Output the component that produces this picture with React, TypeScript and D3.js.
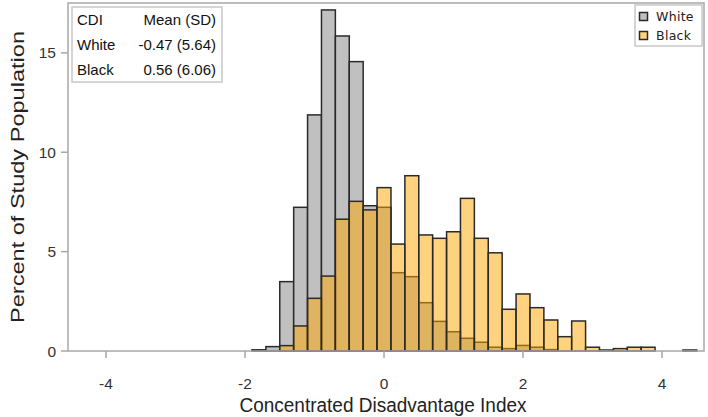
import React from "react";
import * as d3 from "d3";

const binCenters = [-1.8, -1.6, -1.4, -1.2, -1.0, -0.8, -0.6, -0.4, -0.2, 0.0, 0.2, 0.4, 0.6, 0.8, 1.0, 1.2, 1.4, 1.6, 1.8, 2.0, 2.2, 2.4, 2.6, 2.8, 3.0, 3.2, 3.4, 3.6, 3.8, 4.0, 4.2, 4.4];
const whitePct = [0.06, 0.22, 3.49, 7.23, 11.88, 17.16, 15.85, 14.56, 7.31, 7.23, 3.94, 3.74, 2.43, 1.49, 0.97, 0.64, 0.44, 0.19, 0.12, 0.28, 0.19, 0.07, 0, 0, 0, 0, 0, 0, 0, 0, 0, 0.05];
const blackPct = [0, 0, 0.27, 1.26, 2.65, 3.77, 6.63, 7.53, 7.10, 8.22, 5.38, 8.82, 5.84, 5.67, 6.00, 7.68, 5.67, 4.94, 2.10, 2.87, 2.18, 1.56, 0.72, 1.51, 0.19, 0.05, 0.12, 0.19, 0.19, 0, 0, 0];
const binWidth = 0.2;
const xTicks = [-4, -2, 0, 2, 4];
const yTicks = [0, 5, 10, 15];
const statsHeader = ["CDI", "Mean (SD)"];
const statsRows = [["White", "-0.47 (5.64)"], ["Black", "0.56 (6.06)"]];
const groups = ["White", "Black"];

const W = 708, H = 417;
const L = 68, R = 704, T = 3, B = 351;
const FONT = "'Liberation Sans', Arial, sans-serif";

export default function App() {
  const x = d3.scaleLinear().domain([-4.547, 4.604]).range([L, R]);
  const y = d3.scaleLinear().domain([0, 17.51]).range([B, T]);
  const grey = "#c0c0c0";
  const orange = "rgba(255,165,0,0.5)";
  const stroke = "#2a2a2a";
  const axisCol = "#a8a8a8";

  const bars = (vals: number[], fill: string, key: string) =>
    binCenters.map((c, i) =>
      vals[i] > 0 ? (
        <rect
          key={key + i}
          x={x(c - binWidth / 2)}
          y={y(vals[i])}
          width={x(c + binWidth / 2) - x(c - binWidth / 2)}
          height={B - y(vals[i])}
          fill={fill}
          stroke={stroke}
          strokeWidth={1.5}
        />
      ) : null
    );

  return (
    <svg width={W} height={H} style={{ position: "absolute", left: 0, top: 0, background: "#fff" }} fontFamily={FONT}>
      <rect x={0} y={0} width={W} height={H} fill="#fff" />
      {bars(whitePct, grey, "w")}
      {bars(blackPct, orange, "b")}
      <rect x={L} y={T} width={R - L} height={B - T} fill="none" stroke={axisCol} strokeWidth={1.5} />
      {xTicks.map((t) => (
        <g key={"xt" + t}>
          <line x1={x(t)} x2={x(t)} y1={B} y2={B + 7} stroke={axisCol} strokeWidth={1.5} />
          <text x={x(t)} y={389} textAnchor="middle" fontSize={15.5} fill="#333">{t}</text>
        </g>
      ))}
      {yTicks.map((t) => (
        <g key={"yt" + t}>
          <line x1={L - 7} x2={L} y1={y(t)} y2={y(t)} stroke={axisCol} strokeWidth={1.5} />
          <text x={56} y={y(t) + 5.5} textAnchor="end" fontSize={15.5} fill="#333">{t}</text>
        </g>
      ))}
      <text x={383} y={412} textAnchor="middle" fontSize={20} fill="#222" textLength={287} lengthAdjust="spacingAndGlyphs">Concentrated Disadvantage Index</text>
      <text transform={`translate(24,177) rotate(-90)`} textAnchor="middle" fontSize={19} fill="#222" textLength={292} lengthAdjust="spacingAndGlyphs">Percent of Study Population</text>
      <g>
        <rect x={72} y={7} width={150} height={75} fill="#fff" stroke="#c8c8c8" strokeWidth={1.5} />
        <text x={77} y={25} fontSize={15} fill="#111">{statsHeader[0]}</text>
        <text x={216} y={25} fontSize={15} fill="#111" textAnchor="end">{statsHeader[1]}</text>
        {statsRows.map((r, i) => (
          <g key={"sr" + i}>
            <text x={77} y={50 + i * 24.5} fontSize={15} fill="#111">{r[0]}</text>
            <text x={216} y={50 + i * 24.5} fontSize={15} fill="#111" textAnchor="end">{r[1]}</text>
          </g>
        ))}
      </g>
      <g>
        <rect x={635} y={5} width={67} height={41} fill="#fff" stroke="#c8c8c8" strokeWidth={1.5} />
        {groups.map((g, i) => (
          <g key={"lg" + i}>
            <rect x={639.5} y={12.5 + i * 19} width={8} height={8} fill={i === 0 ? grey : orange} stroke={stroke} strokeWidth={1.5} />
            <text x={656} y={21 + i * 19} fontSize={12.5} fontFamily="'DejaVu Sans', sans-serif" fill="#222" letterSpacing={0.3}>{g}</text>
          </g>
        ))}
      </g>
    </svg>
  );
}
